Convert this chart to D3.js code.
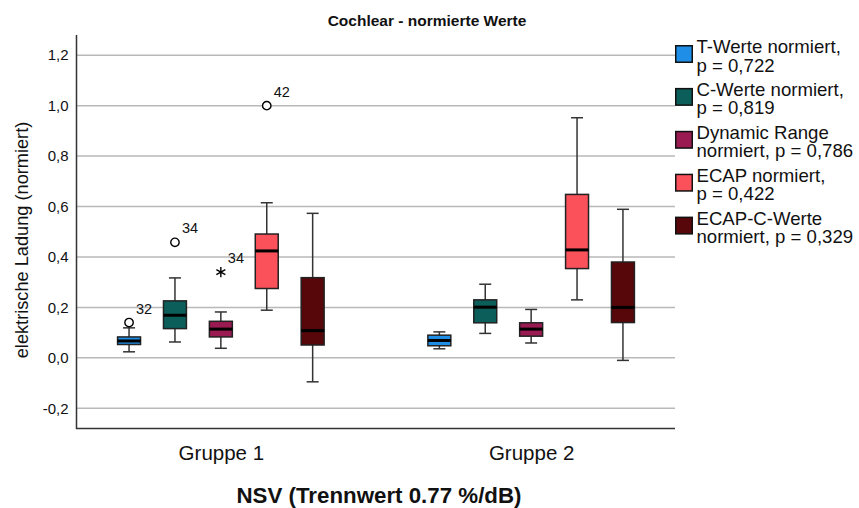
<!DOCTYPE html>
<html>
<head>
<meta charset="utf-8">
<script src="https://cdn.jsdelivr.net/npm/d3@7"></script>
<style>
  html, body { margin: 0; padding: 0; background: #fff; }
  svg { display: block; font-family: "Liberation Sans", Arial, Helvetica, sans-serif; }
</style>
</head>
<body>
<svg id="chart" width="859" height="508"></svg>
<script>
// Groups on the x axis
const groups = ["Gruppe 1", "Gruppe 2"];

// Series (one box per series within each group)
const seriesKeys = ["T", "C", "DR", "ECAP", "ECAPC"];
const legendLines = [
  ["T-Werte normiert,", "p = 0,722"],
  ["C-Werte normiert,", "p = 0,819"],
  ["Dynamic Range", "normiert, p = 0,786"],
  ["ECAP normiert,", "p = 0,422"],
  ["ECAP-C-Werte", "normiert, p = 0,329"]
];
const seriesColors = ["#1f8ee6", "#0b5e5a", "#9a1a52", "#fb515a", "#57060a"];

// Box statistics, indexed [group][series]
const whiskerLow = [
  [0.024, 0.063, 0.038, 0.189, -0.095],
  [0.036, 0.097, 0.059, 0.230, -0.010]
];
const quartile1 = [
  [0.053, 0.116, 0.083, 0.275, 0.051],
  [0.048, 0.139, 0.086, 0.354, 0.140]
];
const median = [
  [0.067, 0.169, 0.114, 0.424, 0.108],
  [0.069, 0.201, 0.114, 0.428, 0.200]
];
const quartile3 = [
  [0.083, 0.226, 0.145, 0.491, 0.318],
  [0.090, 0.230, 0.139, 0.648, 0.380]
];
const whiskerHigh = [
  [0.119, 0.317, 0.182, 0.615, 0.573],
  [0.103, 0.292, 0.192, 0.952, 0.589]
];

// Outliers (circle) and extreme values (star) with case numbers
const outlierGroup  = [0, 0, 0, 0];
const outlierSeries = [0, 1, 2, 3];
const outlierValue  = [0.140, 0.458, 0.340, 1.000];
const outlierLabel  = ["32", "34", "34", "42"];
const outlierKind   = ["circle", "circle", "star", "circle"];

// Y axis ticks
const yTicks = [-0.2, 0.0, 0.2, 0.4, 0.6, 0.8, 1.0, 1.2];
const yTickLabels = ["-0,2", "0,0", "0,2", "0,4", "0,6", "0,8", "1,0", "1,2"];

const title = "Cochlear - normierte Werte";
const yTitle = "elektrische Ladung (normiert)";
const xTitle = "NSV (Trennwert 0.77 %/dB)";

// ---- layout ----
const svg = d3.select("#chart");
const plot = { left: 76.5, right: 675, top: 35, bottom: 428.5 };

const y = d3.scaleLinear().domain([-0.28, 1.28]).range([plot.bottom, plot.top]);
const x = d3.scalePoint().domain(groups).range([plot.left + 1, plot.right - 0.5]).padding(0.462);
const inner = d3.scaleBand().domain(seriesKeys)
  .range([-114.75, 114.75]).paddingInner(0.5).paddingOuter(0.25);
const bw = inner.bandwidth();

// gridlines
svg.append("g").selectAll("line").data(yTicks).join("line")
  .attr("x1", plot.left).attr("x2", plot.right)
  .attr("y1", d => y(d)).attr("y2", d => y(d))
  .attr("stroke", "#b9b9b9").attr("stroke-width", 1.5);

// y axis
const yAxis = d3.axisLeft(y).tickValues(yTicks)
  .tickFormat((d, i) => yTickLabels[i]).tickSize(0).tickPadding(8);
const gy = svg.append("g").attr("transform", `translate(${plot.left},0)`).call(yAxis);
gy.select(".domain").remove();
gy.selectAll("text").attr("font-size", 15).attr("fill", "#111")
  .attr("font-family", "'Liberation Sans', Arial, sans-serif");

// x axis labels
const xAxis = d3.axisBottom(x).tickSize(0).tickPadding(17);
const gx = svg.append("g").attr("transform", `translate(0,${plot.bottom})`).call(xAxis);
gx.select(".domain").remove();
gx.selectAll("text").attr("font-size", 20.5).attr("fill", "#111")
  .attr("font-family", "'Liberation Sans', Arial, sans-serif");

// axis lines (left and bottom)
svg.append("path")
  .attr("d", `M${plot.left},${plot.top}V${plot.bottom}H${plot.right}`)
  .attr("fill", "none").attr("stroke", "#333").attr("stroke-width", 1.5);

// boxes
const boxData = [];
groups.forEach((g, gi) => seriesKeys.forEach((s, si) => boxData.push({
  g, gi, s, si,
  lo: whiskerLow[gi][si], q1: quartile1[gi][si], med: median[gi][si],
  q3: quartile3[gi][si], hi: whiskerHigh[gi][si]
})));
const cx = d => x(d.g) + inner(d.s) + bw / 2;

const boxes = svg.append("g").selectAll("g").data(boxData).join("g");
boxes.append("line") // whisker stem
  .attr("x1", cx).attr("x2", cx)
  .attr("y1", d => y(d.lo)).attr("y2", d => y(d.hi))
  .attr("stroke", "#333").attr("stroke-width", 1.5);
boxes.append("line").attr("class", "cap-hi")
  .attr("x1", d => cx(d) - 6).attr("x2", d => cx(d) + 6)
  .attr("y1", d => y(d.hi)).attr("y2", d => y(d.hi))
  .attr("stroke", "#333").attr("stroke-width", 1.5);
boxes.append("line").attr("class", "cap-lo")
  .attr("x1", d => cx(d) - 6).attr("x2", d => cx(d) + 6)
  .attr("y1", d => y(d.lo)).attr("y2", d => y(d.lo))
  .attr("stroke", "#333").attr("stroke-width", 1.5);
boxes.append("rect")
  .attr("x", d => cx(d) - bw / 2).attr("width", bw)
  .attr("y", d => y(d.q3)).attr("height", d => y(d.q1) - y(d.q3))
  .attr("fill", d => seriesColors[d.si])
  .attr("stroke", "#222").attr("stroke-width", 1.5);
boxes.append("line")
  .attr("x1", d => cx(d) - bw / 2).attr("x2", d => cx(d) + bw / 2)
  .attr("y1", d => y(d.med)).attr("y2", d => y(d.med))
  .attr("stroke", "#000").attr("stroke-width", 3);

// outliers
const outData = outlierValue.map((v, i) => ({
  g: groups[outlierGroup[i]], s: seriesKeys[outlierSeries[i]],
  v, label: outlierLabel[i], kind: outlierKind[i]
}));
const outG = svg.append("g").selectAll("g").data(outData).join("g")
  .attr("transform", d => `translate(${cx(d)},${y(d.v)})`);
outG.filter(d => d.kind === "circle").append("circle")
  .attr("r", 4.2).attr("fill", "#fff").attr("stroke", "#000").attr("stroke-width", 1.4);
outG.filter(d => d.kind === "star").append("path")
  .attr("d", d3.symbol().type(d3.symbolAsterisk).size(75))
  .attr("fill", "none").attr("stroke", "#000").attr("stroke-width", 1.4);
outG.append("text")
  .attr("x", 7).attr("y", -9)
  .attr("font-size", 14.5).attr("fill", "#111")
  .text(d => d.label);

// title
svg.append("text")
  .attr("x", 427).attr("y", 26)
  .attr("text-anchor", "middle").attr("font-weight", "bold")
  .attr("font-size", 15.5).attr("fill", "#111")
  .text(title);

// y title
svg.append("text")
  .attr("transform", `translate(28,240) rotate(-90)`)
  .attr("text-anchor", "middle").attr("font-size", 18.2).attr("fill", "#111")
  .text(yTitle);

// x title
svg.append("text")
  .attr("x", 379).attr("y", 503)
  .attr("text-anchor", "middle").attr("font-weight", "bold")
  .attr("font-size", 22.3).attr("fill", "#111")
  .text(xTitle);

// legend: swatch plus two-line label per series
const legend = svg.append("g").attr("transform", "translate(675,45)");
const items = legend.selectAll("g").data(legendLines).join("g")
  .attr("transform", (d, i) => `translate(0,${i * 42.9})`);
items.append("rect")
  .attr("x", 0.75).attr("y", 0.75).attr("width", 16.5).attr("height", 16.5)
  .attr("fill", (d, i) => seriesColors[i])
  .attr("stroke", "#111").attr("stroke-width", 1.5);
items.append("text")
  .attr("font-size", 18.6).attr("fill", "#111")
  .selectAll("tspan").data(d => d).join("tspan")
  .attr("x", 21.5).attr("y", (d, j) => 8 + j * 18.5)
  .text(d => d);
</script>
</body>
</html>
